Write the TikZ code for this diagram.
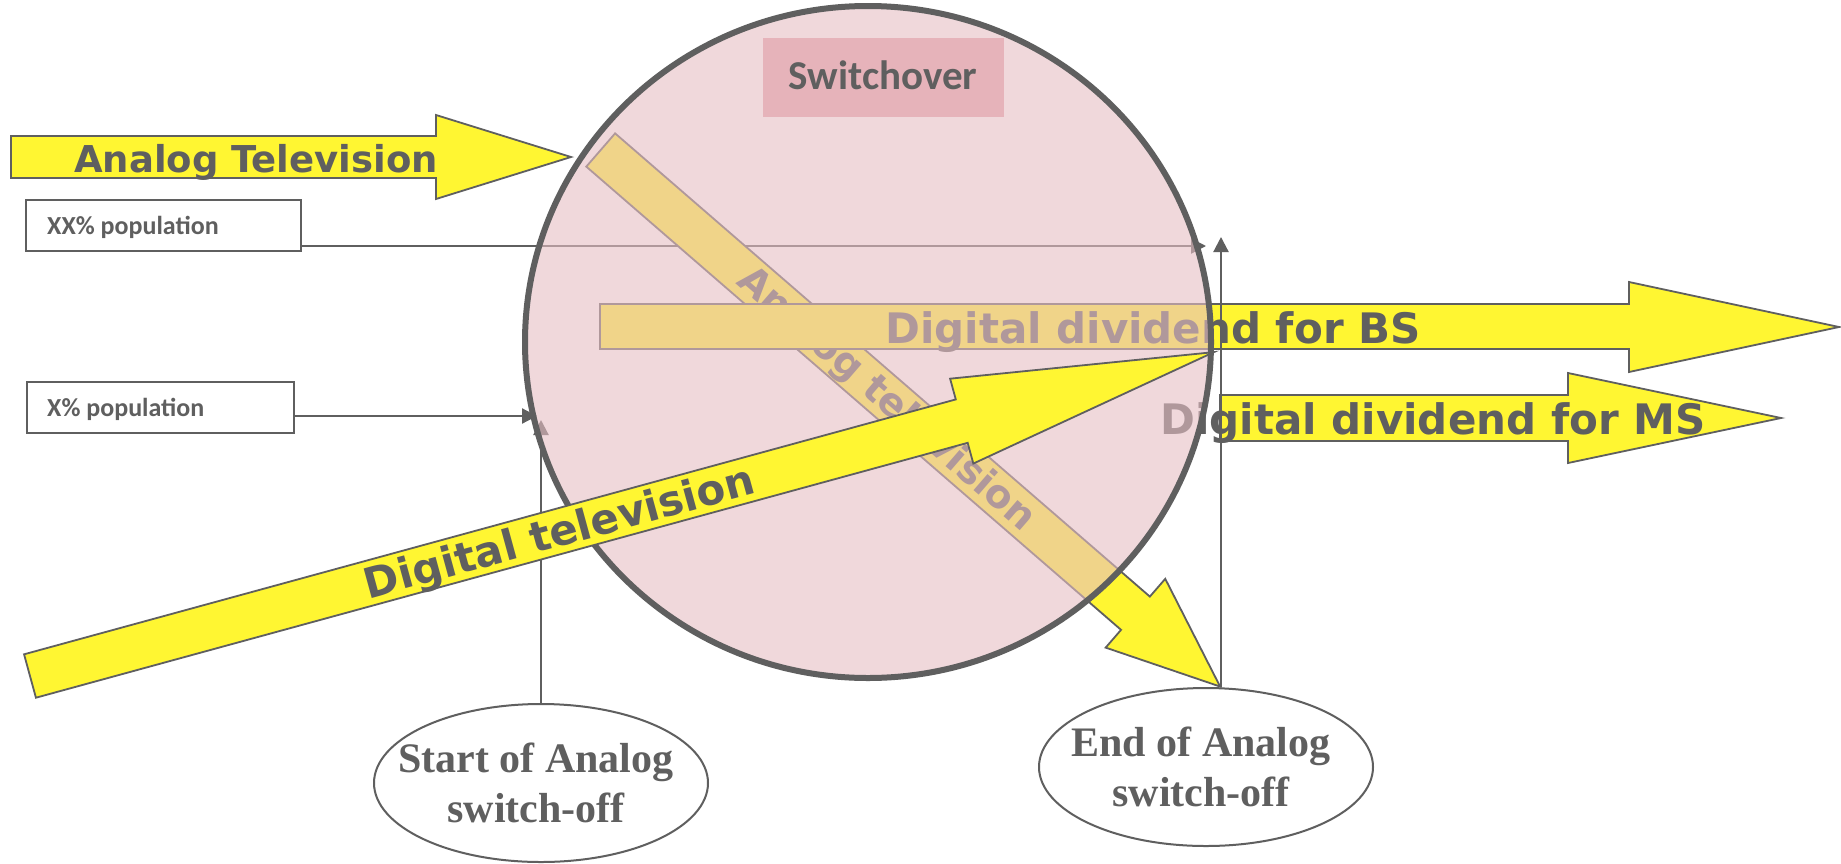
\documentclass[tikz,border=0pt]{standalone}
\usepackage{fontspec}
\newfontfamily\dv{DejaVu Sans}
\newfontfamily\carl{Carlito}
\newfontfamily\lser{Liberation Serif}
\usetikzlibrary{arrows.meta,shapes.geometric}
\definecolor{tg}{RGB}{95,95,95}
\definecolor{ay}{RGB}{255,246,50}
\definecolor{pk}{RGB}{230,190,196}
\definecolor{sw}{RGB}{230,179,186}
\tikzset{
  bigarrow/.style={fill=ay, draw=tg, line width=1.8pt, line join=miter},
  atext/.style={text=tg, inner sep=0pt, font=\dv\bfseries\fontsize{#1}{#1}\selectfont},
  conn/.style={draw=tg, line width=2.2pt, -{Triangle[length=15pt,width=15pt]}},
  popbox/.style={draw=tg, line width=2.5pt, fill=white, inner sep=0pt, minimum height=51pt},
  boxtext/.style={text=tg, inner sep=0pt, font=\carl\bfseries\fontsize{26}{30}\selectfont},
  oval/.style={ellipse, draw=tg, line width=2pt, inner sep=0pt, minimum width=334pt, minimum height=158pt},
  ovaltext/.style={text=tg, inner sep=0pt, align=center, font=\lser\bfseries\fontsize{42}{50}\selectfont}
}
\begin{document}
\begin{tikzpicture}[x=1pt,y=-1pt]
\fill[white] (0,0) rectangle (1841,863);
\useasboundingbox (0,0) rectangle (1841,863);

% named nodes and coordinates
\node (xxbox) [popbox, minimum width=275pt] at (163.5,225.5) {};
\node (xxtext) [boxtext, anchor=base west] at (47,234) {XX\% population};
\node (xbox) [popbox, minimum width=267pt] at (160.5,407.5) {};
\node (xtext) [boxtext, anchor=base west] at (47,416) {X\% population};
\node (startE) [oval] at (541,783) {};
\node (endE) [oval] at (1206,767) {};
\coordinate (xxtip) at (1206,246);
\coordinate (xtip) at (537,416);
\coordinate (stip) at (541,420);
\coordinate (etip) at (1221,237);

% elements lying under the switchover circle
\draw[conn] (xxbox.east |- xxtip) -- (xxtip);
\draw[conn] (startE.north) -- (stip);

\begin{scope}[shift={(600.7,150)}, rotate=-40.9]
  \path[bigarrow] (0,-22) -- (707.5,-22) -- (707.5,-45.5) -- (819.5,0) -- (707.5,45.5) -- (707.5,22) -- (0,22) -- cycle;
\end{scope}
\node (antext) [atext=39, rotate=-40.9] at (886,400) {Analog television};

\path[bigarrow] (600,304) -- (1629,304) -- (1629,282) -- (1839,327) -- (1629,372) -- (1629,349) -- (600,349) -- cycle;
\node (bstext) [atext=42, anchor=base] at (1153,343) {Digital dividend for BS};

\path[bigarrow] (1220,395) -- (1568,395) -- (1568,373) -- (1781,418) -- (1568,463) -- (1568,441) -- (1220,441) -- cycle;
\node (mstext) [atext=42, anchor=base] at (1433,434) {Digital dividend for MS};

% the switchover circle
\node (circ) [ellipse, minimum width=686pt, minimum height=672pt, inner sep=0pt, fill=pk, fill opacity=0.6, draw=tg, line width=6pt] at (868,342) {};
\node (swbox) [fill=sw, inner sep=0pt, minimum width=241pt, minimum height=79pt] at (883.5,77.5) {};
\node (swtext) [text=tg, inner sep=0pt, anchor=base, font=\carl\bfseries\fontsize{41}{41}\selectfont] at (883,89) {Switchover};

% elements on top
\draw[conn] (etip |- endE.north) -- (etip);
\draw[conn] (xbox.east |- xtip) -- (xtip);

\path[bigarrow] (11,136) -- (436,136) -- (436,115) -- (571,157) -- (436,199) -- (436,178) -- (11,178) -- cycle;
\node (attext) [atext=37, anchor=base] at (256,172) {Analog Television};

\begin{scope}[shift={(30,676)}, rotate=15.3]
  \path[bigarrow] (0,-22.5) -- (966,-22.5) -- (966,-44) -- (1227.5,0) -- (966,44) -- (966,22.5) -- (0,22.5) -- cycle;
\end{scope}
\node (dttext) [atext=42, rotate=15.3] at (560,535) {Digital television};

\node (starttext) [ovaltext] at (536,783) {Start of Analog\\switch-off};
\node (endtext) [ovaltext] at (1201,767) {End of Analog\\switch-off};
\end{tikzpicture}
\end{document}
